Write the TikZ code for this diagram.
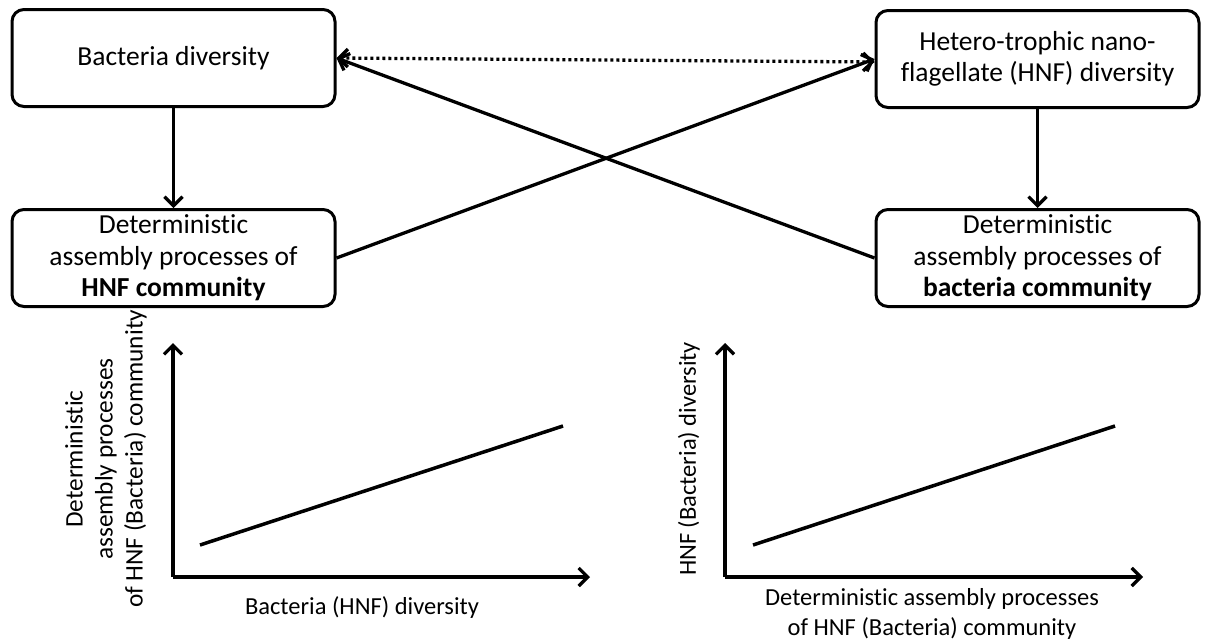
\documentclass[tikz,border=0pt]{standalone}
\usepackage{fontspec}
\setmainfont{Carlito}[Ligatures={NoCommon}]
\usetikzlibrary{arrows.meta,calc}
\begin{document}
\begin{tikzpicture}[x=1pt,y=-1pt,
  box/.style={draw,line width=3pt,rounded corners=12pt,minimum width=323pt,minimum height=97pt,align=center,inner sep=0pt,font=\fontsize{27.5}{31.5}\selectfont},
  conn/.style={line width=3.3pt,-{Straight Barb[length=9pt,width=18pt,line width=3.3pt]}},
  both/.style={line width=3.3pt,{Straight Barb[length=9pt,width=18pt,line width=3.3pt]}-{Straight Barb[length=9pt,width=18pt,line width=3.3pt]}},
  lbl/.style={font=\fontsize{24.5}{30}\selectfont,align=center,inner sep=0pt}]
\useasboundingbox (0,0) rectangle (1210,643);
\node[box] (A) at (173.5,58) {Bacteria diversity};
\node[box] (B) at (1037.5,59) {Hetero-trophic nano-\\flagellate (HNF) diversity};
\node[box] (C) at (173.5,258) {Deterministic\\assembly processes of\\\textbf{HNF community}};
\node[box] (D) at (1037.5,258) {Deterministic\\assembly processes of\\\textbf{bacteria community}};
\draw[conn] (A.south) -- (C.north);
\draw[conn] (B.south) -- (D.north);
\draw[conn] (C.east) -- (B.west);
\draw[conn] (D.west) -- (A.east);
\draw[both,dash pattern=on 3pt off 3pt] (A.east) -- ($(B.west)+(0,3)$);
% plot 1
\coordinate (o1) at (173,577);
\coordinate (y1) at (173,343);
\coordinate (x1) at (590,577);
\coordinate (p1) at (200,545);
\coordinate (q1) at (563,426);
\draw[conn,line width=3.5pt] (o1) -- (y1);
\draw[conn,line width=3.5pt] (o1) -- (x1);
\draw[line width=3.5pt] (p1) -- (q1);
\node[lbl,rotate=90,font=\fontsize{25.3}{30}\selectfont] (yl1) at (106,459) {Deterministic\\assembly processes\\of HNF (Bacteria) community};
\node[lbl] (xl1) at (362,608) {Bacteria (HNF) diversity};
% plot 2
\coordinate (o2) at (725,577);
\coordinate (y2) at (725,343);
\coordinate (x2) at (1143,577);
\coordinate (p2) at (753,545);
\coordinate (q2) at (1115,426);
\draw[conn,line width=3.5pt] (o2) -- (y2);
\draw[conn,line width=3.5pt] (o2) -- (x2);
\draw[line width=3.5pt] (p2) -- (q2);
\node[lbl,rotate=90] (yl2) at (689,459) {HNF (Bacteria) diversity};
\node[lbl] (xl2) at (932,614) {Deterministic assembly processes\\of HNF (Bacteria) community};
\end{tikzpicture}
\end{document}
